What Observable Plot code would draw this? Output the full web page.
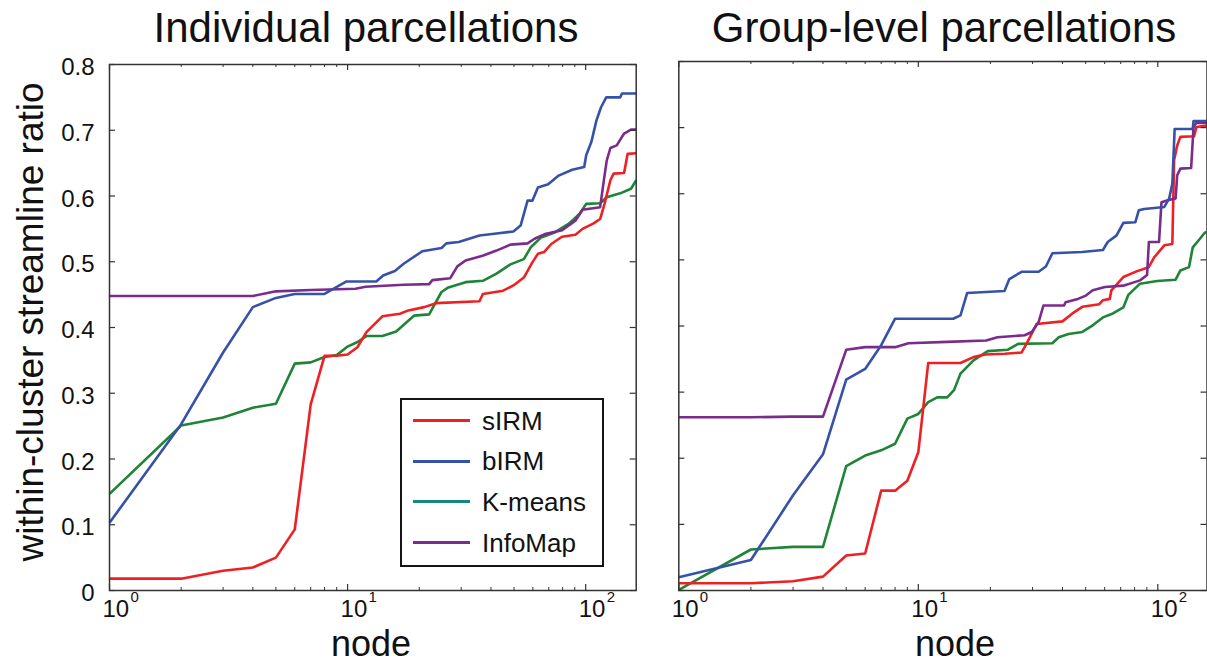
<!DOCTYPE html>
<html><head><meta charset="utf-8">
<script src="https://cdn.jsdelivr.net/npm/d3@7"></script>
<script src="https://cdn.jsdelivr.net/npm/@observablehq/plot@0.6"></script>
<style>
html,body{margin:0;padding:0;background:#fff;}
#root{position:relative;width:1207px;height:668px;overflow:hidden;font-family:"Liberation Sans",Arial,Helvetica,sans-serif;color:#111;}
.abs{position:absolute;white-space:nowrap;line-height:1;}
.plot{position:absolute;top:0;}
</style></head><body><div id="root"></div>
<script>
// ---------- data ----------
const seriesNames = ["sIRM", "bIRM", "K-means", "InfoMap"];
const lineColors = ["#ee2024", "#3552a8", "#1f8436", "#7a2b8c"];
const legendColors = ["#ee2024", "#3552a8", "#148a7e", "#7a2b8c"];
const panelTitles = ["Individual parcellations", "Group-level parcellations"];
const yAxisTitle = "within-cluster streamline ratio";
const xAxisTitle = "node";
const yTicks = [0, 0.1, 0.2, 0.3, 0.4, 0.5, 0.6, 0.7, 0.8];
const yTickLabels = ["0", "0.1", "0.2", "0.3", "0.4", "0.5", "0.6", "0.7", "0.8"];
const xMajorTicks = [1, 10, 100];
const xTickBase = "10";
const xTickExponents = ["0", "1", "2"];
const xMinorTicks = [2, 3, 4, 5, 6, 7, 8, 9, 20, 30, 40, 50, 60, 70, 80, 90];

// Individual parcellations
const indSIRMNodes = [1,2,3,4,5,6,7,8,9,10,11,12,14,16.6,18,21,23.5,35.8,37,45,49.7,55,59.7,63,67,71.7,79.5,90.6,97,107.5,115,120,127,131,145,150,163];
const indSIRMValues = [0.018,0.018,0.030,0.035,0.050,0.093,0.283,0.357,0.357,0.359,0.370,0.393,0.417,0.421,0.426,0.431,0.437,0.440,0.451,0.456,0.464,0.476,0.499,0.512,0.515,0.527,0.538,0.541,0.550,0.558,0.565,0.588,0.624,0.634,0.635,0.664,0.665];

const indBIRMNodes = [1,2,3,4,5,6,8,9.9,13.2,14.1,15.8,17.2,20.6,24.8,26,29.3,35.8,42.2,49.7,53.3,57,59.8,63,69.6,77,87.8,98.6,100.5,105.6,111,116,122,139.6,142,163];
const indBIRMValues = [0.103,0.253,0.362,0.431,0.445,0.451,0.451,0.470,0.470,0.479,0.486,0.497,0.516,0.521,0.528,0.530,0.540,0.543,0.546,0.555,0.593,0.593,0.613,0.618,0.631,0.640,0.644,0.662,0.682,0.715,0.735,0.750,0.750,0.756,0.756];

const indKMeansNodes = [1,2,3,4,5,6,7,8,9,10,11,12,14,16,19,22,24.8,26.5,31.3,37,42.2,48.3,55,58.8,65,74.5,85,94.3,100.5,115,122.6,139.6,155,163];
const indKMeansValues = [0.147,0.251,0.263,0.278,0.284,0.345,0.347,0.355,0.358,0.371,0.378,0.387,0.387,0.394,0.418,0.420,0.454,0.461,0.469,0.471,0.482,0.496,0.504,0.522,0.537,0.545,0.558,0.573,0.588,0.589,0.598,0.604,0.611,0.624];

const indInfoMapNodes = [1,2,3,4,5,7,10.8,11.9,17.2,22,22.7,27,28.9,31.3,36.9,42.2,48.3,57,61,67.4,79.6,90.8,97,115,120,122.6,127,135,145,155,163];
const indInfoMapValues = [0.448,0.448,0.448,0.448,0.455,0.457,0.459,0.462,0.465,0.466,0.472,0.475,0.493,0.502,0.509,0.517,0.526,0.528,0.535,0.542,0.548,0.563,0.579,0.583,0.631,0.654,0.673,0.677,0.695,0.701,0.701];

// Group-level parcellations
const grpSIRMNodes = [1,2,3,4,5,6,7,8,9,10,11,15,17,19,23,27,28.3,31.2,40,44,48.4,57,59,63,64,71.8,82,91.7,96.7,106.5,115,117,120.5,124.3,141.8,145,160.5];
const grpSIRMValues = [0.011,0.011,0.014,0.021,0.053,0.056,0.151,0.151,0.166,0.209,0.344,0.344,0.353,0.357,0.358,0.360,0.373,0.403,0.407,0.419,0.429,0.433,0.439,0.441,0.454,0.474,0.483,0.489,0.504,0.522,0.524,0.651,0.673,0.686,0.687,0.701,0.703];

const grpBIRMNodes = [1,2,3,4,5,6,7,8,14,15,16,22.9,24,27,31.8,34.1,36.3,48.3,59,61.8,67.3,71.8,80.6,83.3,87.7,106.5,111.6,115,117.6,140,141,160.5];
const grpBIRMValues = [0.020,0.046,0.144,0.206,0.319,0.335,0.371,0.411,0.411,0.416,0.450,0.453,0.471,0.482,0.482,0.490,0.510,0.512,0.515,0.527,0.537,0.556,0.557,0.575,0.577,0.580,0.593,0.615,0.698,0.698,0.710,0.710];

const grpKMeansNodes = [1,2,3,4,5,6,7,8,9,10,11,12,13.2,14.1,15,17,19.5,23.6,26.1,36.3,38.6,42.4,48.4,53.5,59,65,71.8,75.3,84.3,99.4,118.7,124.3,135,140,150,157,160.5];
const grpKMeansValues = [0.001,0.062,0.066,0.066,0.188,0.204,0.212,0.222,0.260,0.267,0.285,0.292,0.292,0.303,0.328,0.348,0.362,0.364,0.373,0.374,0.383,0.388,0.391,0.401,0.413,0.419,0.428,0.447,0.464,0.468,0.470,0.484,0.489,0.519,0.532,0.541,0.542];

const grpInfoMapNodes = [1,2,3,4,5,6,8,9.1,13.2,19.2,21.4,27.8,29.8,31.8,33.3,40.6,41.2,46.4,50.1,53.5,60.2,71.8,84.3,90.2,91.8,101.2,103.6,110,118.7,120.5,124.3,137.8,141,144.7,160.5];
const grpInfoMapValues = [0.262,0.262,0.263,0.263,0.364,0.368,0.368,0.374,0.376,0.378,0.383,0.386,0.391,0.406,0.431,0.431,0.436,0.441,0.446,0.454,0.459,0.461,0.469,0.477,0.527,0.527,0.587,0.590,0.593,0.628,0.638,0.639,0.701,0.707,0.707];

// ---------- layout ----------
const FONT = "Liberation Sans, Arial, Helvetica, sans-serif";
const H = 668;
const leftGeom = {left: 0, width: 660, mL: 109, mR: 24.3, mT: 64, mB: 78, xMax: 163, yLabels: true};
const rightGeom = {left: 650, width: 557, mL: 28.3, mR: 0.5, mT: 61, mB: 78, xMax: 160.5, yLabels: false};

const indSeries = [
  {nodes: indSIRMNodes, values: indSIRMValues},
  {nodes: indBIRMNodes, values: indBIRMValues},
  {nodes: indKMeansNodes, values: indKMeansValues},
  {nodes: indInfoMapNodes, values: indInfoMapValues}
];
const grpSeries = [
  {nodes: grpSIRMNodes, values: grpSIRMValues},
  {nodes: grpBIRMNodes, values: grpBIRMValues},
  {nodes: grpKMeansNodes, values: grpKMeansValues},
  {nodes: grpInfoMapNodes, values: grpInfoMapValues}
];
const drawOrder = [2, 0, 3, 1];

function panel(g, series) {
  const fw = g.width - g.mL - g.mR;
  const fh = H - g.mT - g.mB;
  const ink = "#333";
  const marks = [];
  for (const k of drawOrder) {
    const s = series[k];
    marks.push(Plot.line(s.values, {x: s.nodes, y: s.values, stroke: lineColors[k], strokeWidth: 2.6, strokeLinejoin: "round", strokeLinecap: "butt"}));
  }
  marks.push(Plot.frame({stroke: ink, strokeWidth: 1.5}));
  // inward ticks on all four sides
  marks.push(Plot.tickY(yTicks, {y: d => d, insetRight: fw - 6, stroke: ink, strokeWidth: 1.2}));
  marks.push(Plot.tickY(yTicks, {y: d => d, insetLeft: fw - 6, stroke: ink, strokeWidth: 1.2}));
  marks.push(Plot.tickX(xMajorTicks, {x: d => d, insetTop: fh - 6, stroke: ink, strokeWidth: 1.2}));
  marks.push(Plot.tickX(xMajorTicks, {x: d => d, insetBottom: fh - 6, stroke: ink, strokeWidth: 1.2}));
  marks.push(Plot.tickX(xMinorTicks, {x: d => d, insetTop: fh - 3, stroke: ink, strokeWidth: 1}));
  marks.push(Plot.tickX(xMinorTicks, {x: d => d, insetBottom: fh - 3, stroke: ink, strokeWidth: 1}));
  if (g.yLabels) {
    marks.push(Plot.text(yTicks, {y: d => d, text: (d, i) => yTickLabels[i], frameAnchor: "left", textAnchor: "end", dx: -15, dy: 3, fontSize: 24, fill: "#111"}));
  }
  marks.push(Plot.text(xMajorTicks, {x: d => d, text: () => xTickBase, frameAnchor: "bottom", textAnchor: "start", dx: -7, dy: 26, fontSize: 24, fill: "#111"}));
  marks.push(Plot.text(xMajorTicks, {x: d => d, text: (d, i) => xTickExponents[i], frameAnchor: "bottom", textAnchor: "start", dx: 21, dy: 11, fontSize: 15, fill: "#111"}));
  const svg = Plot.plot({
    width: g.width, height: H,
    marginLeft: g.mL, marginRight: g.mR, marginTop: g.mT, marginBottom: g.mB,
    x: {type: "log", domain: [1, g.xMax], axis: null},
    y: {type: "linear", domain: [0, 0.8], axis: null},
    style: {fontFamily: FONT, background: "transparent", overflow: "visible"},
    marks
  });
  svg.classList.add("plot");
  svg.style.left = g.left + "px";
  return svg;
}

const root = document.getElementById("root");
root.appendChild(panel(leftGeom, indSeries));
root.appendChild(panel(rightGeom, grpSeries));

function addText(txt, left, top, size, extra) {
  const d = document.createElement("div");
  d.className = "abs";
  d.textContent = txt;
  d.style.left = left + "px";
  d.style.top = top + "px";
  d.style.fontSize = size + "px";
  if (extra) Object.assign(d.style, extra);
  root.appendChild(d);
  return d;
}
// titles (baseline ~ 43)
addText(panelTitles[0], 366, 43 - 0.8465 * 42, 42, {transform: "translateX(-50%)"});
addText(panelTitles[1], 944, 43 - 0.8465 * 42, 42, {transform: "translateX(-50%)"});
// y axis title
addText(yAxisTitle, 30, 322, 37, {transform: "translate(-50%,-50%) rotate(-90deg)", transformOrigin: "50% 50%", left: "30px"});
// x axis titles
addText(xAxisTitle, 371, 656 - 0.8465 * 36, 36, {transform: "translateX(-50%)"});
addText(xAxisTitle, 955, 656 - 0.8465 * 36, 36, {transform: "translateX(-50%)"});

// legend
const box = document.createElement("div");
Object.assign(box.style, {position: "absolute", left: "400px", top: "398px", width: "204px", height: "169px", boxSizing: "border-box", border: "2.5px solid #151515", background: "#fff"});
root.appendChild(box);
seriesNames.forEach((name, i) => {
  const cy = 420.5 + i * 40.6;
  const ln = document.createElement("div");
  Object.assign(ln.style, {position: "absolute", left: "413px", top: (cy - 1.5) + "px", width: "57px", height: "3px", background: legendColors[i]});
  root.appendChild(ln);
  addText(name, 482, cy + 9.3 - 0.8465 * 26, 26);
});
</script></body></html>
